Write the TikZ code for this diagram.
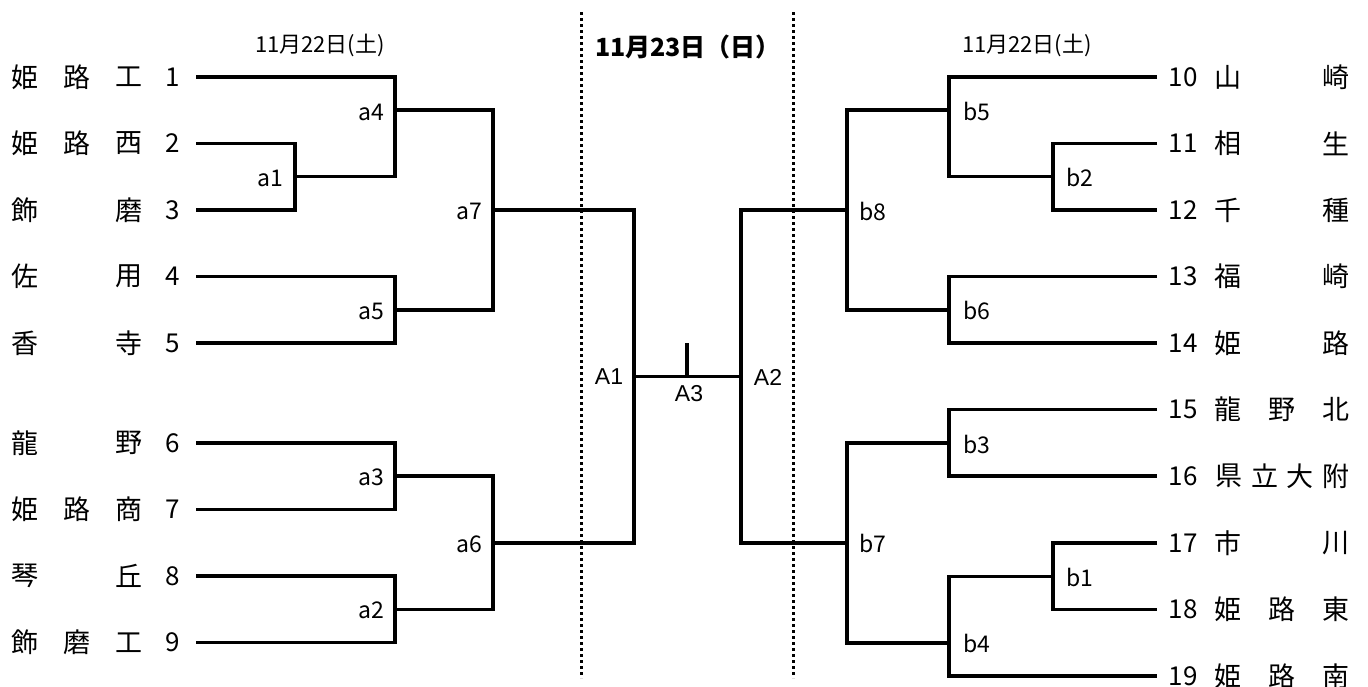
\documentclass[tikz,border=0pt]{standalone}
\usepackage{fontspec}
\newfontfamily\jp{Noto Sans CJK JP}
\newfontfamily\lat{Liberation Sans}
\tikzset{
  br/.style={line width=3.2pt, line cap=butt, line join=miter},
  sepline/.style={line width=3pt, dash pattern=on 3pt off 3pt},
  team/.style={font=\jp\fontsize{27}{27}\selectfont, inner sep=0pt, anchor=center},
  num/.style={font=\jp\fontsize{26}{26}\selectfont, inner sep=0pt, anchor=center},
  mlab/.style={font=\jp\fontsize{23}{23}\selectfont, inner sep=0pt},
  Alab/.style={font=\lat\fontsize{23}{23}\selectfont, inner sep=0pt},
  datelab/.style={font=\jp\fontsize{22}{22}\selectfont, inner sep=0pt},
  titlelab/.style={font=\jp\bfseries\fontsize{25}{25}\selectfont, inner sep=0pt},
}
\newcommand\LTeam[6]{%
  \node[team] (l#1a) at (25,#2) {#3};
  \node[team] (l#1b) at (77,#2) {#4};
  \node[team] (l#1c) at (129,#2) {#5};
  \node[num] (n#1) at (173,#2) {#6};}
\newcommand\RTeam[6]{%
  \node[num] (n#1) at (1183,#2) {#6};
  \node[team] (r#1a) at (1228,#2) {#3};
  \node[team] (r#1b) at (1282,#2) {#4};
  \node[team] (r#1c) at (1336,#2) {#5};}
\begin{document}
\begin{tikzpicture}[x=1pt,y=-1pt]
\useasboundingbox (0,0) rectangle (1368,686);

% separators
\coordinate (s1t) at (581,12);
\coordinate (s1b) at (581,678);
\coordinate (s2t) at (793,12);
\coordinate (s2b) at (793,678);
\draw[sepline] (s1t) -- (s1b);
\draw[sepline] (s2t) -- (s2b);

% dates
\node[datelab] (d1) at (320,45) {11月22日(土)};
\node[titlelab] (d2) at (688,47) {11月23日（日）};
\node[datelab] (d3) at (1027,45) {11月22日(土)};

% left teams
\LTeam{1}{77}{姫}{路}{工}{1}
\LTeam{2}{143.5}{姫}{路}{西}{2}
\LTeam{3}{210}{飾}{}{磨}{3}
\LTeam{4}{276.5}{佐}{}{用}{4}
\LTeam{5}{343}{香}{}{寺}{5}
\LTeam{6}{443}{龍}{}{野}{6}
\LTeam{7}{509.5}{姫}{路}{商}{7}
\LTeam{8}{576}{琴}{}{丘}{8}
\LTeam{9}{642.5}{飾}{磨}{工}{9}

% right teams
\RTeam{10}{77}{山}{}{崎}{10}
\RTeam{11}{143.5}{相}{}{生}{11}
\RTeam{12}{210}{千}{}{種}{12}
\RTeam{13}{276.5}{福}{}{崎}{13}
\RTeam{14}{343}{姫}{}{路}{14}
\RTeam{15}{409.5}{龍}{野}{北}{15}
\node[num] (n16) at (1183,476) {16};
\node[team] (r16a) at (1229,476) {県};
\node[team] (r16b) at (1264.7,476) {立};
\node[team] (r16c) at (1300.3,476) {大};
\node[team] (r16d) at (1336,476) {附};
\RTeam{17}{543}{市}{}{川}{17}
\RTeam{18}{609.5}{姫}{路}{東}{18}
\RTeam{19}{676}{姫}{路}{南}{19}

% line start coordinates
\coordinate (L1) at (196,77);
\coordinate (L2) at (196,143.5);
\coordinate (L3) at (196,210);
\coordinate (L4) at (196,276.5);
\coordinate (L5) at (196,343);
\coordinate (L6) at (196,443);
\coordinate (L7) at (196,509.5);
\coordinate (L8) at (196,576);
\coordinate (L9) at (196,642.5);
\coordinate (R10) at (1157,77);
\coordinate (R11) at (1157,143.5);
\coordinate (R12) at (1157,210);
\coordinate (R13) at (1157,276.5);
\coordinate (R14) at (1157,343);
\coordinate (R15) at (1157,409.5);
\coordinate (R16) at (1157,476);
\coordinate (R17) at (1157,543);
\coordinate (R18) at (1157,609.5);
\coordinate (R19) at (1157,676);

% match points
\coordinate (a1) at (295,176.7);
\coordinate (a4) at (395,110);
\coordinate (a5) at (395,310);
\coordinate (a7) at (493,210);
\coordinate (a3) at (395,476);
\coordinate (a2) at (395,609.3);
\coordinate (a6) at (493,543);
\coordinate (A1) at (634,376.5);
\coordinate (b2) at (1053,176.7);
\coordinate (b5) at (949,110);
\coordinate (b6) at (949,310);
\coordinate (b8) at (847,210);
\coordinate (b3) at (949,443);
\coordinate (b1) at (1053,576.5);
\coordinate (b4) at (949,643);
\coordinate (b7) at (847,543);
\coordinate (A2) at (741,376.5);
\coordinate (A3) at (687,376.5);
\coordinate (A3t) at (687,343);

% left brackets
\draw[br] (L2) -| (a1) |- (L3);
\draw[br] (L1) -| (a4) |- (a1);
\draw[br] (L4) -| (a5) |- (L5);
\draw[br] (a4) -| (a7) |- (a5);
\draw[br] (L6) -| (a3) |- (L7);
\draw[br] (L8) -| (a2) |- (L9);
\draw[br] (a3) -| (a6) |- (a2);
\draw[br] (a7) -| (A1) |- (a6);

% right brackets
\draw[br] (R11) -| (b2) |- (R12);
\draw[br] (R10) -| (b5) |- (b2);
\draw[br] (R13) -| (b6) |- (R14);
\draw[br] (b5) -| (b8) |- (b6);
\draw[br] (R15) -| (b3) |- (R16);
\draw[br] (R17) -| (b1) |- (R18);
\draw[br] (b1) -| (b4) |- (R19);
\draw[br] (b3) -| (b7) |- (b4);
\draw[br] (b8) -| (A2) |- (b7);

% final
\draw[br] (A1) -- (A2);
\draw[br] (A3) -- (A3t);

% match labels
\node[mlab, anchor=east] (ta1) at (283,178) {a1};
\node[mlab, anchor=east] (ta4) at (384,112) {a4};
\node[mlab, anchor=east] (ta5) at (384,311) {a5};
\node[mlab, anchor=east] (ta7) at (482,211) {a7};
\node[mlab, anchor=east] (ta3) at (384,477) {a3};
\node[mlab, anchor=east] (ta2) at (384,610) {a2};
\node[mlab, anchor=east] (ta6) at (482,544) {a6};
\node[mlab, anchor=west] (tb5) at (963,111) {b5};
\node[mlab, anchor=west] (tb2) at (1066,177) {b2};
\node[mlab, anchor=west] (tb8) at (859,211) {b8};
\node[mlab, anchor=west] (tb6) at (963,310) {b6};
\node[mlab, anchor=west] (tb3) at (963,444) {b3};
\node[mlab, anchor=west] (tb7) at (859,543) {b7};
\node[mlab, anchor=west] (tb1) at (1066,577) {b1};
\node[mlab, anchor=west] (tb4) at (963,643) {b4};
\node[Alab] (tA1) at (609,377) {A1};
\node[Alab] (tA2) at (768,377) {A2};
\node[Alab] (tA3) at (689,394) {A3};
\end{tikzpicture}
\end{document}
